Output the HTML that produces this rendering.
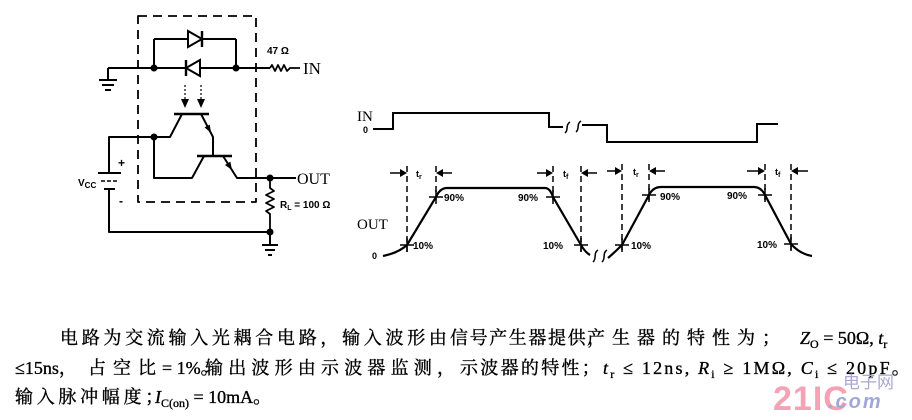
<!DOCTYPE html>
<html>
<head>
<meta charset="utf-8">
<style>
  html,body{margin:0;padding:0;background:#fff;}
  #wrap{position:relative;width:912px;height:420px;overflow:hidden;background:#fff;}
  svg{position:absolute;left:0;top:0;}
  .t{position:absolute;white-space:nowrap;font-family:"Liberation Serif","Noto Serif CJK SC",serif;font-size:18px;line-height:18px;color:#000;font-weight:normal;-webkit-text-stroke:0.35px #000;}
  .t sub{font-size:12px;vertical-align:-4px;line-height:0;font-style:normal;}
  .t i{font-style:italic;}
  .wm{position:absolute;white-space:nowrap;line-height:1;}
</style>
</head>
<body>
<div id="wrap">
<svg width="912" height="420" viewBox="0 0 912 420" xmlns="http://www.w3.org/2000/svg">
  <g fill="none" stroke="#000" stroke-width="2" stroke-linejoin="round" stroke-linecap="butt">
    <rect x="138" y="16" width="118" height="186" stroke-width="1.8" stroke-dasharray="9 6"/>
    <path d="M154,39 H236 M154,39 V68 M236,39 V68"/>
    <path d="M108,68 H270"/>
    <path d="M108,68 V80 M99,80 H117 M102,85 H114 M105,90 H111"/>
    <path d="M270,68 L272,65 L275,71 L278,65 L281,71 L284,65 L287,71 L290,68 H300" stroke-width="1.8"/>
    <path d="M185,85 V100 M201,85 V100" stroke-width="1.2" stroke-dasharray="2 2"/>
    <path d="M174,114 H209" stroke-width="2.6"/>
    <path d="M182,114 L170,137 H154"/>
    <path d="M201,114 L213,137 V156"/>
    <path d="M197,156 H232" stroke-width="2.6"/>
    <path d="M204,156 L192,178 H154 V137"/>
    <path d="M223,156 L237,178 H296"/>
    <path d="M154,137 H109 V173"/>
    <path d="M98,173 H121"/>
    <path d="M101,181 H118" stroke-dasharray="4 2" stroke-width="1.6"/>
    <path d="M104,189 H115"/>
    <path d="M109,189 V232 H270"/>
    <path d="M270,178 V188 L274,191 L266,195 L274,199 L266,203 L274,207 L266,211 L270,214 V232" stroke-width="1.8"/>
    <path d="M270,232 V244 M262,245 H278 M265,250 H275 M268,255 H272"/>
  </g>
  <path d="M154,39 H236" stroke="#000" stroke-width="2"/>
  <polygon points="188,31 188,47 202,39" fill="#fff" stroke="#000" stroke-width="2"/>
  <path d="M202,31 V47" stroke="#000" stroke-width="2.4"/>
  <polygon points="200,60 200,76 186,68" fill="#fff" stroke="#000" stroke-width="2"/>
  <path d="M186,60 V76" stroke="#000" stroke-width="2.4"/>
  <polygon points="181,99 189,99 185,108" fill="#000"/>
  <polygon points="197,99 205,99 201,108" fill="#000"/>
  <polygon points="204.6,127.4 209.8,124.6 211,133" fill="#000"/>
  <polygon points="225,165 230.4,161.6 232,170" fill="#000"/>
  <g fill="#000">
    <circle cx="154" cy="68" r="3.5"/>
    <circle cx="236" cy="68" r="3.5"/>
    <circle cx="154" cy="137" r="3.5"/>
    <circle cx="270" cy="178" r="3.5"/>
    <circle cx="270" cy="232" r="3.5"/>
  </g>
  <g font-family="Liberation Sans, sans-serif" font-weight="bold" fill="#000">
    <text x="267" y="54" font-size="10">47 Ω</text>
    <text x="118" y="167" font-size="12">+</text>
    <text x="119" y="205" font-size="12">-</text>
    <text x="78" y="186" font-size="10">V<tspan font-size="8" dy="2">CC</tspan></text>
    <text x="280" y="208" font-size="10">R<tspan font-size="7" dy="2">L</tspan><tspan dy="-2"> = 100 Ω</tspan></text>
  </g>
  <g font-family="Liberation Serif, serif" fill="#000">
    <text x="303" y="74" font-size="17">IN</text>
    <text x="297" y="184" font-size="16">OUT</text>
    <text x="357" y="121" font-size="15">IN</text>
    <text x="357" y="229" font-size="15">OUT</text>
  </g>
  <g fill="none" stroke="#000" stroke-width="2">
    <path d="M373,129 H393 V113 H549 V127 H563"/>
    <path d="M582,125 H607 V142 H757 V124 H778"/>
    <path d="M565,133 C569,130 565,125 570,122" stroke-width="1.5"/>
    <path d="M576,132 C580,129 576,124 581,121" stroke-width="1.5"/>
  </g>
  <g fill="none" stroke="#000" stroke-width="2.2">
    <path d="M383,256 Q398,253 407,245 L436,197 Q440,188 447,188 H545 Q550,188 553,197 L581,245 Q585,252 590,255"/>
    <path d="M608,258 Q615,252 622,245 L649,195 Q653,187 661,187 H754 Q761,187 765,195 L791,244 Q800,254 812,256"/>
  </g>
  <g fill="none" stroke="#000" stroke-width="1.5">
    <path d="M593,262 C597,259 593,253 598,250"/>
    <path d="M602,262 C606,259 602,253 607,250"/>
  </g>
  <g fill="none" stroke="#000" stroke-width="1.5" stroke-dasharray="6 4">
    <path d="M407,166 V252"/>
    <path d="M436,166 V200"/>
    <path d="M553,166 V200"/>
    <path d="M581,166 V252"/>
    <path d="M622,164 V252"/>
    <path d="M649,164 V200"/>
    <path d="M765,164 V200"/>
    <path d="M791,164 V252"/>
  </g>
  <g fill="none" stroke="#000" stroke-width="1.5">
    <path d="M400,245 H414 M407,238 V252"/>
    <path d="M429,197 H443 M436,190 V204"/>
    <path d="M546,197 H560 M553,190 V204"/>
    <path d="M574,245 H588 M581,238 V252"/>
    <path d="M615,245 H629 M622,238 V252"/>
    <path d="M642,195 H656 M649,188 V202"/>
    <path d="M758,195 H772 M765,188 V202"/>
    <path d="M784,244 H798 M791,237 V251"/>
  </g>
  <g stroke="#000" stroke-width="1.5" fill="none">
    <path d="M390,173 H400 M443,173 H452 M537,173 H546 M588,173 H597"/>
    <path d="M607,171 H615 M656,171 H665 M747,171 H758 M798,171 H808"/>
  </g>
  <g fill="#000">
    <polygon points="400,169 400,177 407,173"/>
    <polygon points="443,169 443,177 436,173"/>
    <polygon points="546,169 546,177 553,173"/>
    <polygon points="588,169 588,177 581,173"/>
    <polygon points="615,167 615,175 622,171"/>
    <polygon points="656,167 656,175 649,171"/>
    <polygon points="758,167 758,175 765,171"/>
    <polygon points="798,167 798,175 791,171"/>
  </g>
  <g font-family="Liberation Sans, sans-serif" font-weight="bold" fill="#000">
    <text x="363" y="133" font-size="9">0</text>
    <text x="372" y="259" font-size="9">0</text>
    <text x="416" y="177" font-size="9">t<tspan font-size="7" dy="2">r</tspan></text>
    <text x="563" y="177" font-size="9">t<tspan font-size="7" dy="2">f</tspan></text>
    <text x="633" y="175" font-size="9">t<tspan font-size="7" dy="2">r</tspan></text>
    <text x="775" y="175" font-size="9">t<tspan font-size="7" dy="2">f</tspan></text>
    <g font-size="10">
      <text x="444" y="201">90%</text>
      <text x="518" y="201">90%</text>
      <text x="413" y="249">10%</text>
      <text x="543" y="249">10%</text>
      <text x="660" y="200">90%</text>
      <text x="727" y="199">90%</text>
      <text x="631" y="249">10%</text>
      <text x="757" y="248">10%</text>
    </g>
  </g>
</svg>

<div class="t" style="left:60px;top:329px;letter-spacing:3.7px;">电路为交流输入光耦合电路，输入波形由</div>
<div class="t" style="left:450px;top:329px;letter-spacing:1.6px;">信号产生器提供，</div>
<div class="t" style="left:587px;top:329px;letter-spacing:7px;">产生器的特性为；</div>
<div class="t" style="left:800px;top:329px;"><i>Z</i><sub>O</sub> = 50Ω, <i>t</i><sub>r</sub></div>

<div class="t" style="left:15px;top:359px;">≤15ns，</div>
<div class="t" style="left:88px;top:359px;letter-spacing:7px;">占空比</div>
<div class="t" style="left:162px;top:359px;">= 1%。</div>
<div class="t" style="left:205px;top:359px;letter-spacing:5.2px;">输出波形由示波器监测，</div>
<div class="t" style="left:460px;top:359px;letter-spacing:2.3px;">示波器的特性；</div>
<div class="t" style="left:603px;top:359px;letter-spacing:2.2px;"><i>t</i><sub>r</sub> ≤ 12ns, <i>R</i><sub>i</sub> ≥ 1MΩ, <i>C</i><sub>i</sub> ≤ 20pF。</div>

<div class="t" style="left:15px;top:388px;letter-spacing:3.7px;">输入脉冲幅度；</div>
<div class="t" style="left:155px;top:388px;"><i>I</i><sub>C(on)</sub> = 10mA。</div>

<div class="wm" style="left:773px;top:382px;font-family:'Liberation Sans',sans-serif;font-weight:bold;font-size:34px;color:#f4a3b6;letter-spacing:1px;">21IC</div>
<div class="wm" style="left:843px;top:374px;font-family:'Liberation Sans','Noto Sans CJK SC',sans-serif;font-size:17px;color:#a9a9d2;">电子网</div>
<div class="wm" style="left:828px;top:392px;font-family:'Liberation Sans',sans-serif;font-style:italic;font-weight:bold;font-size:20px;color:#a0a8da;letter-spacing:2px;">.com</div>
</div>
</body>
</html>
